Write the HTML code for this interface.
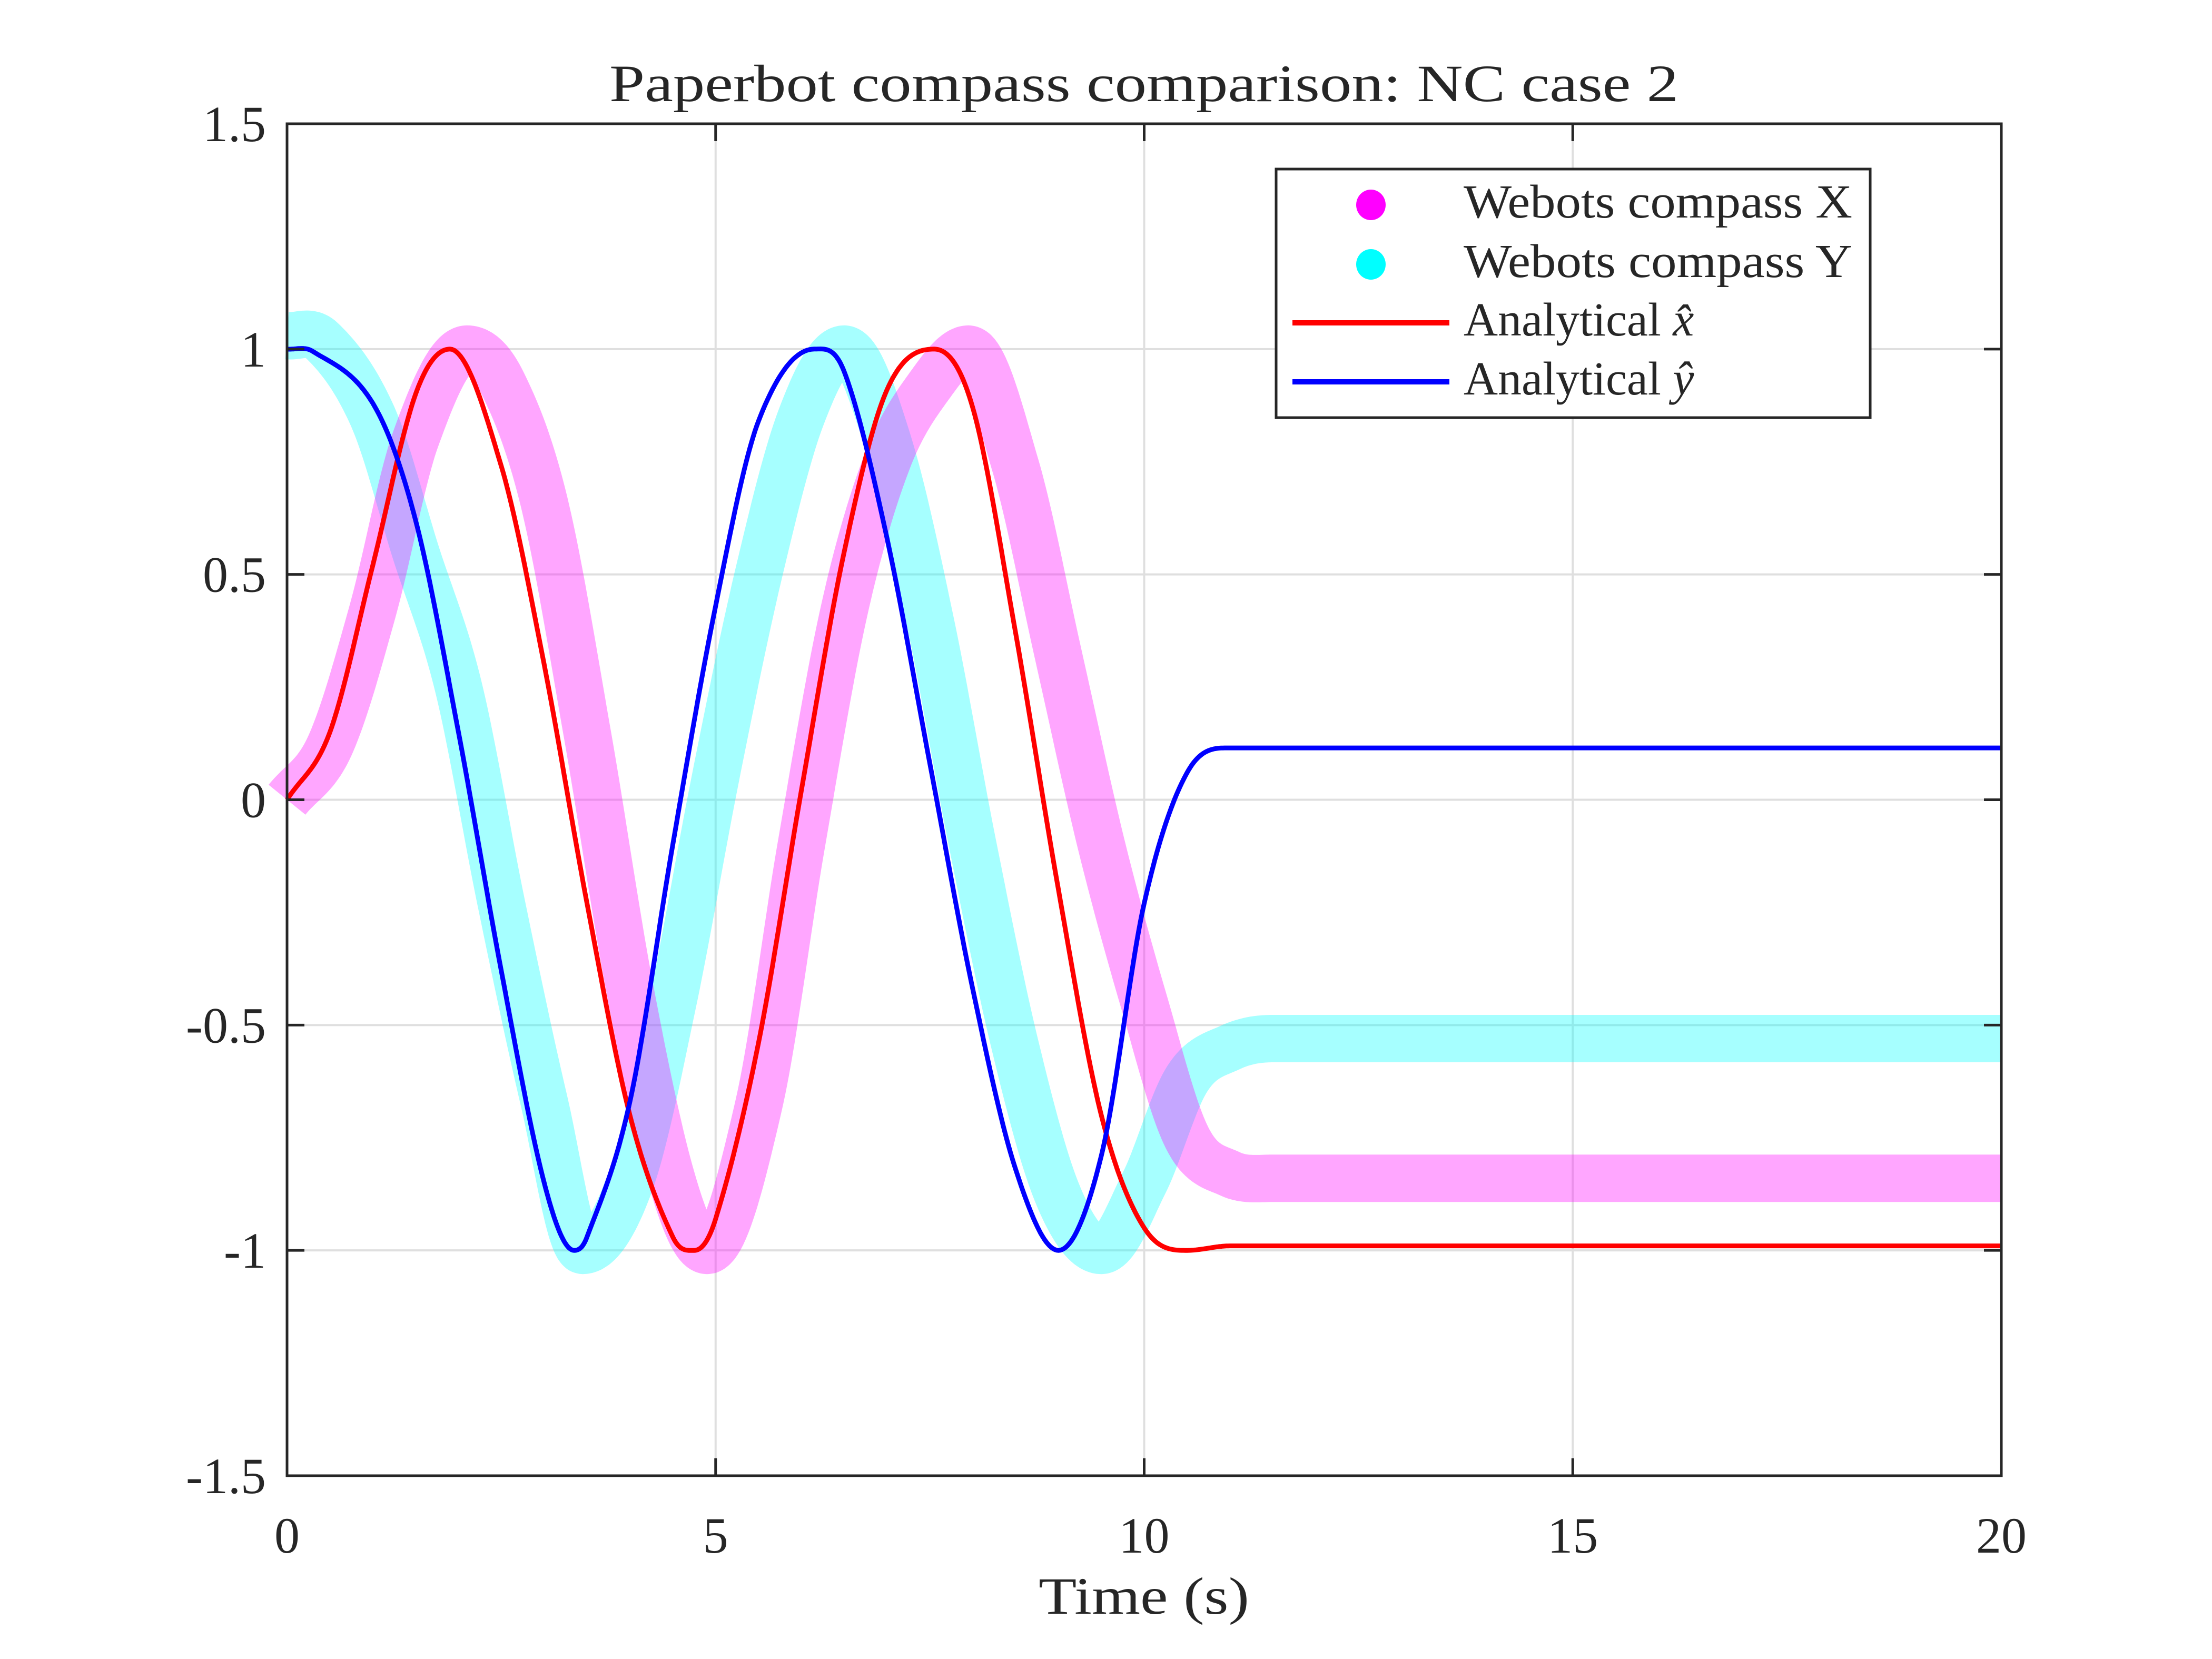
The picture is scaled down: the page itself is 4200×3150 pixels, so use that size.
<!DOCTYPE html>
<html><head><meta charset="utf-8"><style>
html,body{margin:0;padding:0;background:#fff}
svg{display:block}
text{font-family:"Liberation Serif",serif;fill:#262626}
</style></head><body>
<svg id="chart" width="4200" height="3150" viewBox="0 0 4200 3150" xmlns="http://www.w3.org/2000/svg">
<rect width="4200" height="3150" fill="#fff"/>
<g id="grid"></g>
<g id="series"></g>
<g id="axes"></g>
<text x="2172" y="192" font-size="100" text-anchor="middle" textLength="2030" lengthAdjust="spacingAndGlyphs">Paperbot compass comparison: NC case 2</text>
<text x="2172" y="3064" font-size="100" text-anchor="middle" textLength="400" lengthAdjust="spacingAndGlyphs">Time (s)</text>
<g>
<rect x="2423" y="321" width="1128" height="472" fill="#fff" stroke="#262626" stroke-width="5"/>
<ellipse cx="2603" cy="389" rx="28" ry="29" fill="#ff00ff"/>
<ellipse cx="2603" cy="502" rx="28" ry="29" fill="#00ffff"/>
<line x1="2454" y1="613" x2="2752" y2="613" stroke="#ff0000" stroke-width="10"/>
<line x1="2454" y1="725" x2="2752" y2="725" stroke="#0000ff" stroke-width="10"/>
<text x="2779" y="413" font-size="90" textLength="738" lengthAdjust="spacingAndGlyphs">Webots compass X</text>
<text x="2779" y="526" font-size="90" textLength="738" lengthAdjust="spacingAndGlyphs">Webots compass Y</text>
<text x="2779" y="637" font-size="90">Analytical <tspan font-style="italic">x̂</tspan></text>
<text x="2779" y="749" font-size="90">Analytical <tspan font-style="italic">ŷ</tspan></text>
</g>
</svg>
<script>
const xHatT = [0,0.5,1,1.5,1.9,2.5,3,3.5,4,4.5,4.75,5,5.5,6,6.5,7,7.55,8,8.5,9,9.5,10,10.5,11,12,20];
const xHatV = [0,0.15,0.52,0.9,1.0,0.74,0.3,-0.23,-0.7,-0.97,-1.0,-0.93,-0.54,0.02,0.55,0.91,1.0,0.87,0.37,-0.2,-0.7,-0.95,-1.0,-0.99,-0.99,-0.99];
const yHatT = [0,0.3,1,1.5,2,2.5,3,3.35,3.5,4,4.5,5,5.5,6.15,6.5,7,7.5,8,8.5,9,9.5,10,10.5,11,12,20];
const yHatV = [1,0.995,0.88,0.62,0.15,-0.38,-0.85,-1.0,-0.97,-0.67,-0.1,0.43,0.84,1.0,0.95,0.58,0.08,-0.42,-0.82,-1.0,-0.79,-0.23,0.06,0.115,0.115,0.115];
const compassXT = [0,0.5,1,1.5,2.1,2.5,3,3.5,4,4.5,4.9,5.5,6,6.5,7,7.5,7.95,8.5,9,9.5,10,10.5,11,11.5,12.5,20];
const compassXV = [0,0.12,0.42,0.8,1.0,0.93,0.66,0.15,-0.42,-0.85,-1.0,-0.68,-0.1,0.42,0.75,0.92,1.0,0.74,0.32,-0.1,-0.45,-0.75,-0.83,-0.84,-0.84,-0.84];
const compassYT = [0,0.4,1,1.5,2,2.5,3,3.45,4,4.5,5,5.5,6,6.5,7,7.5,8,8.5,9,9.5,10,10.5,11,11.5,12.5,20];
const compassYV = [1.03,1.02,0.85,0.55,0.25,-0.23,-0.67,-1.0,-0.85,-0.45,0.05,0.5,0.85,1.0,0.8,0.4,-0.1,-0.55,-0.88,-1.0,-0.85,-0.62,-0.55,-0.53,-0.53,-0.53];
const xTicks = [0,5,10,15,20];
const yTicks = [-1.5,-1,-0.5,0,0.5,1,1.5];
const yTickLabels = ["-1.5","-1","-0.5","0","0.5","1","1.5"];

const L=545,R=3800,T=235,B=2802;
function X(t){return L+(t-0)/(20-0)*(R-L);}
function Y(v){return B-(v+1.5)/3*(B-T);}
const NS="http://www.w3.org/2000/svg";
function mk(tag,attrs,parent){const e=document.createElementNS(NS,tag);for(const k in attrs)e.setAttribute(k,attrs[k]);parent.appendChild(e);return e;}
function smooth(ts,vs){
  const n=ts.length,d=[],m=new Array(n);
  for(let i=0;i<n-1;i++)d.push((vs[i+1]-vs[i])/(ts[i+1]-ts[i]));
  m[0]=d[0];m[n-1]=d[n-2];
  for(let i=1;i<n-1;i++){
    if(d[i-1]*d[i]<=0)m[i]=0;
    else m[i]=(vs[i+1]-vs[i-1])/(ts[i+1]-ts[i-1]);
  }
  let path="M"+X(ts[0]).toFixed(1)+","+Y(vs[0]).toFixed(1);
  for(let i=0;i<n-1;i++){
    const h=ts[i+1]-ts[i];
    for(let k=1;k<=24;k++){
      const s=k/24,t=ts[i]+s*h;
      const h00=2*s*s*s-3*s*s+1,h10=s*s*s-2*s*s+s,h01=-2*s*s*s+3*s*s,h11=s*s*s-s*s;
      const v=h00*vs[i]+h10*h*m[i]+h01*vs[i+1]+h11*h*m[i+1];
      path+=" L"+X(t).toFixed(1)+","+Y(v).toFixed(1);
    }
  }
  return path;
}
const grid=document.getElementById('grid'),series=document.getElementById('series'),axes=document.getElementById('axes');
xTicks.forEach(t=>{
  const g=mk('line',{x1:X(t),x2:X(t),y1:T,y2:B,stroke:'#dfdfdf','stroke-width':4},grid);
  
  
  mk('line',{x1:X(t),x2:X(t),y1:B,y2:B-33,stroke:'#262626','stroke-width':5},axes);
  mk('line',{x1:X(t),x2:X(t),y1:T,y2:T+33,stroke:'#262626','stroke-width':5},axes);
  const lb=mk('text',{x:X(t),y:2948,'font-size':96,'text-anchor':'middle'},axes);
  lb.textContent=String(t);
  
  
});
yTicks.forEach((v,i)=>{
  const g=mk('line',{x1:L,x2:R,y1:Y(v),y2:Y(v),stroke:'#dfdfdf','stroke-width':4},grid);
  
  
  mk('line',{x1:L,x2:L+33,y1:Y(v),y2:Y(v),stroke:'#262626','stroke-width':5},axes);
  mk('line',{x1:R,x2:R-33,y1:Y(v),y2:Y(v),stroke:'#262626','stroke-width':5},axes);
  const lb=mk('text',{x:505,y:Y(v)+33,'font-size':96,'text-anchor':'end'},axes);
  lb.textContent=yTickLabels[i];
  
  
});
const box=mk('rect',{x:L,y:T,width:R-L,height:B-T,fill:'none',stroke:'#262626','stroke-width':5},axes);



const sy=mk('path',{d:smooth(compassYT,compassYV),fill:'none',stroke:'#00ffff','stroke-width':90,'stroke-opacity':0.35,'stroke-linejoin':'round','stroke-linecap':'butt'},series);


const sx=mk('path',{d:smooth(compassXT,compassXV),fill:'none',stroke:'#ff00ff','stroke-width':90,'stroke-opacity':0.35,'stroke-linejoin':'round','stroke-linecap':'butt'},series);


const lx=mk('path',{d:smooth(xHatT,xHatV),fill:'none',stroke:'#ff0000','stroke-width':9},series);


const ly=mk('path',{d:smooth(yHatT,yHatV),fill:'none',stroke:'#0000ff','stroke-width':9},series);


</script>
</body></html>
